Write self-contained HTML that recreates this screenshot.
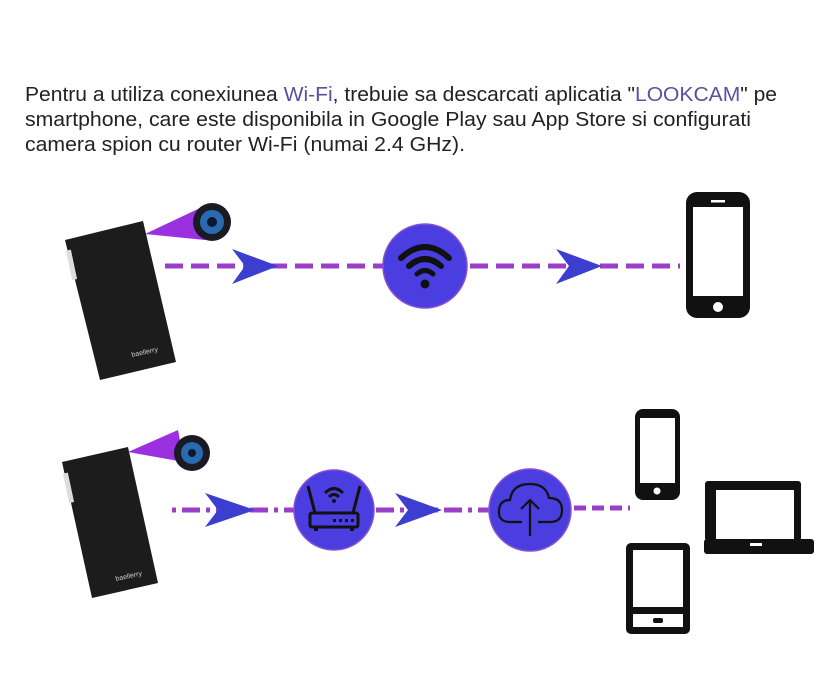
<!DOCTYPE html>
<html><head><meta charset="utf-8"><style>
html,body{margin:0;padding:0;background:#fff;}
svg{display:block}
text{font-family:"Liberation Sans Narrow","Liberation Sans",sans-serif;font-size:20px;fill:#222}
</style></head><body>
<svg width="823" height="700" viewBox="0 0 823 700" xmlns="http://www.w3.org/2000/svg">
<text x="25" y="101" textLength="752" lengthAdjust="spacingAndGlyphs">Pentru a utiliza conexiunea <tspan fill="#5a4fa0">Wi-Fi</tspan>, trebuie sa descarcati aplicatia "<tspan fill="#5a4fa0">LOOKCAM</tspan>" pe</text>
<text x="25" y="126" textLength="726" lengthAdjust="spacingAndGlyphs">smartphone, care este disponibila in Google Play sau App Store si configurati</text>
<text x="25" y="151" textLength="440" lengthAdjust="spacingAndGlyphs">camera spion cu router Wi-Fi (numai 2.4 GHz).</text>

<!-- Row 1 -->
<polygon points="145,234 200,208 205,240" fill="#9b30e0"/>
<circle cx="212" cy="222" r="19" fill="#1a1a22"/>
<circle cx="212" cy="222" r="12" fill="#2a6ab0"/>
<circle cx="212" cy="222" r="5" fill="#0c1830"/>
<polygon points="65,240 143,221 176,362 100,380" fill="#1c1c1c"/>
<rect x="68" y="250" width="5" height="30" fill="#ddd" transform="rotate(-12 70 260)"/>
<text x="132" y="357" style="font-size:7px;fill:#ccc" transform="rotate(-12 132 357)">baellerry</text>
<line x1="165" y1="266" x2="385" y2="266" stroke="#9b3fc8" stroke-width="5" stroke-dasharray="18,8"/>
<polygon points="232,249 278,266 232,284 245,266" fill="#3d3dd0"/>
<circle cx="425" cy="266" r="42" fill="#4a3ee0" stroke="#8a4fd0" stroke-width="1.5"/>
<path d="M401 258 Q425 236 449 258" stroke="#111" stroke-width="6" fill="none" stroke-linecap="round"/>
<path d="M409 266 Q425 252 441 266" stroke="#111" stroke-width="6" fill="none" stroke-linecap="round"/>
<path d="M417 274 Q425 267 433 274" stroke="#111" stroke-width="5" fill="none" stroke-linecap="round"/>
<circle cx="425" cy="284" r="4.5" fill="#111"/>
<line x1="470" y1="266" x2="680" y2="266" stroke="#9b3fc8" stroke-width="5" stroke-dasharray="18,8"/>
<polygon points="556,249 602,266 556,284 569,266" fill="#3d3dd0"/>
<rect x="686" y="192" width="64" height="126" rx="11" fill="#111"/>
<rect x="693" y="207" width="50" height="89" fill="#fff"/>
<circle cx="718" cy="307" r="5" fill="#fff"/>
<rect x="711" y="200" width="14" height="2.5" fill="#fff"/>

<!-- Row 2 -->
<polygon points="128,452 178,430 184,462" fill="#9b30e0"/>
<circle cx="192" cy="453" r="18" fill="#1a1a22"/>
<circle cx="192" cy="453" r="11" fill="#2a6ab0"/>
<circle cx="192" cy="453" r="4" fill="#0c1830"/>
<polygon points="62,462 128,447 158,583 92,598" fill="#1c1c1c"/>
<rect x="65" y="473" width="5" height="30" fill="#ddd" transform="rotate(-12 67 483)"/>
<text x="116" y="581" style="font-size:7px;fill:#ccc" transform="rotate(-12 116 581)">baellerry</text>
<line x1="172" y1="510" x2="295" y2="510" stroke="#9b3fc8" stroke-width="5" stroke-dasharray="4,6,18,6"/>
<polygon points="205,493 255,510 205,527 218,510" fill="#3d3dd0"/>
<circle cx="334" cy="510" r="40" fill="#4a3ee0" stroke="#8a4fd0" stroke-width="1.5"/>
<rect x="310" y="513" width="48" height="14" rx="2" fill="none" stroke="#111" stroke-width="3"/>
<line x1="315" y1="513" x2="308" y2="486" stroke="#111" stroke-width="3"/>
<line x1="353" y1="513" x2="360" y2="486" stroke="#111" stroke-width="3"/>
<path d="M325 493 Q334 484 343 493" stroke="#111" stroke-width="3" fill="none"/>
<path d="M329 497 Q334 492 339 497" stroke="#111" stroke-width="3" fill="none"/>
<circle cx="334" cy="501" r="2" fill="#111"/>
<g fill="#111"><rect x="333" y="519" width="3" height="3"/><rect x="339" y="519" width="3" height="3"/><rect x="345" y="519" width="3" height="3"/><rect x="351" y="519" width="3" height="3"/><rect x="314" y="527" width="4" height="4"/><rect x="350" y="527" width="4" height="4"/></g>
<line x1="376" y1="510" x2="490" y2="510" stroke="#9b3fc8" stroke-width="5" stroke-dasharray="18,6,4,6"/>
<polygon points="395,493 442,510 395,527 408,510" fill="#3d3dd0"/>
<circle cx="530" cy="510" r="41" fill="#4a3ee0" stroke="#8a4fd0" stroke-width="1.5"/>
<path d="M522 522 H510 Q498 522 499 510 Q500 500 510 500 Q512 484 530 484 Q546 484 549 498 Q562 498 562 510 Q562 522 550 522 H538" stroke="#111" stroke-width="2.2" fill="none"/>
<line x1="530" y1="536" x2="530" y2="500" stroke="#111" stroke-width="2.2"/>
<polyline points="521,509 530,500 539,509" stroke="#111" stroke-width="2.2" fill="none"/>
<line x1="574" y1="508" x2="630" y2="508" stroke="#9b3fc8" stroke-width="5" stroke-dasharray="12,6"/>
<rect x="635" y="409" width="45" height="91" rx="8" fill="#111"/>
<rect x="640" y="418" width="35" height="65" fill="#fff"/>
<circle cx="657" cy="491" r="3.5" fill="#fff"/>
<rect x="705" y="481" width="96" height="60" rx="3" fill="#111"/>
<rect x="716" y="490" width="78" height="50" fill="#fff"/>
<rect x="704" y="539" width="110" height="15" rx="3" fill="#111"/>
<rect x="750" y="543" width="12" height="3" fill="#fff"/>
<rect x="626" y="543" width="64" height="91" rx="5" fill="#111"/>
<rect x="633" y="550" width="50" height="57" fill="#fff"/>
<rect x="633" y="614" width="50" height="13" fill="#fff"/>
<rect x="653" y="618" width="10" height="5" rx="2" fill="#111"/>
</svg>
</body></html>
